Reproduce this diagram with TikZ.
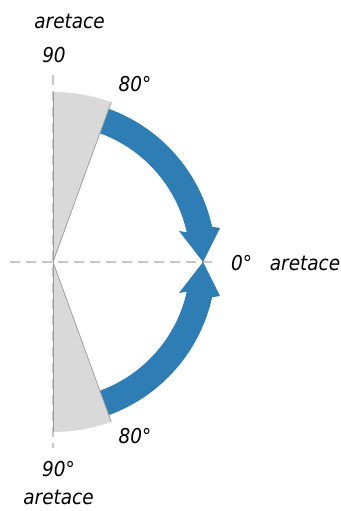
\documentclass[tikz,border=0pt]{standalone}
\usepackage{fontspec}
\newfontfamily\labfont{DejaVu Sans Condensed Oblique}
\definecolor{bandblue}{RGB}{46,125,180}
\definecolor{sectorgray}{RGB}{217,217,217}
\definecolor{edgegray}{RGB}{160,160,160}
\definecolor{axisgray}{RGB}{200,200,200}
\begin{document}
\begin{tikzpicture}[x=1pt,y=1pt,
  lab/.style={font=\labfont\fontsize{20.5}{23}\selectfont, inner sep=0pt, anchor=base, text=black},
  axis/.style={draw=axisgray, line width=1.4pt, dash pattern=on 10pt off 6pt},
  band/.style={fill=bandblue},
  sector/.style={fill=sectorgray},
  sectoredge/.style={draw=edgegray, line width=0.8pt}]
\useasboundingbox (0,0) rectangle (340,511);
\begin{scope}[shift={(53,249)}]
  \coordinate (O) at (0,0);
  % axes
  \draw[axis] (0,187) -- (0,-186);
  \draw[axis] (-43,0) -- (164,0);
  % blue arrows
  \fill[band] (70:163) arc[start angle=70,end angle=12.5,radius=163]
     -- (167,34) -- (150,0) -- (126,31)
     -- (12.5:137) arc[start angle=12.5,end angle=70,radius=137] -- cycle;
  \fill[band] (-70:163) arc[start angle=-70,end angle=-12.5,radius=163]
     -- (167,-34) -- (150,0) -- (126,-31)
     -- (-12.5:137) arc[start angle=-12.5,end angle=-70,radius=137] -- cycle;
  % gray sectors
  \fill[sector] (O) -- (90:170) arc[start angle=90,end angle=70,radius=170] -- cycle;
  \fill[sector] (O) -- (-90:170) arc[start angle=-90,end angle=-70,radius=170] -- cycle;
  \draw[sectoredge] (70:170) -- (O) -- (-70:170);
  \draw[sectoredge] (0,170) -- (0,-170);
\end{scope}
% labels (pixel x, 511 - pixel baseline y)
\node[lab] (tA) at (69.5,482) {aretace};
\node[lab] (t90) at (54,448) {90};
\node[lab] (t80a) at (135,419.5) {80°};
\node[lab] (t0) at (241.5,240) {0°};
\node[lab] (tR) at (305,240) {aretace};
\node[lab] (t80b) at (135,67) {80°};
\node[lab] (t90b) at (58.5,34) {90°};
\node[lab] (tB) at (58.5,6) {aretace};
\end{tikzpicture}
\end{document}
